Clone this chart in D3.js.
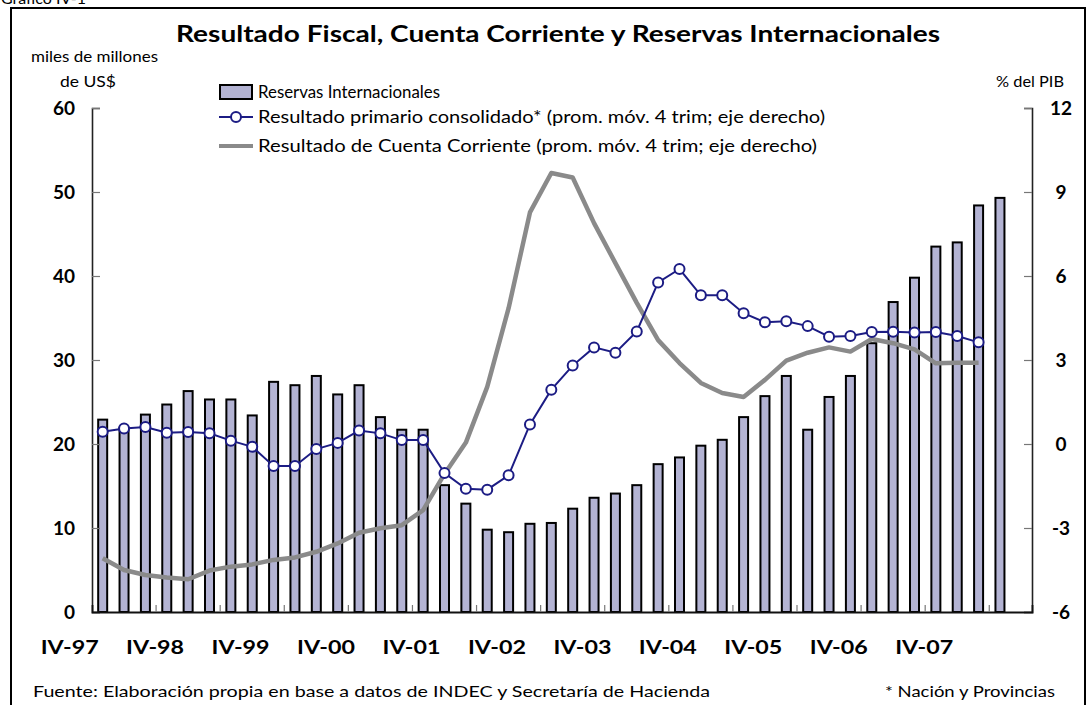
<!DOCTYPE html>
<html><head><meta charset="utf-8">
<script src="https://cdn.jsdelivr.net/npm/d3@7"></script>
<style>
html,body{margin:0;padding:0;background:#fff;}
svg{display:block;font-family:Lato,"Open Sans",sans-serif;}
</style></head>
<body>
<svg id="c" width="1089" height="705"></svg>
<script>
// ---------------- DATA ----------------
const quarters = ["IV-97","I-98","II-98","III-98","IV-98","I-99","II-99","III-99","IV-99",
  "I-00","II-00","III-00","IV-00","I-01","II-01","III-01","IV-01","I-02","II-02","III-02","IV-02",
  "I-03","II-03","III-03","IV-03","I-04","II-04","III-04","IV-04","I-05","II-05","III-05","IV-05",
  "I-06","II-06","III-06","IV-06","I-07","II-07","III-07","IV-07","I-08","II-08","III-08"];
const yearLabels = ["IV-97","IV-98","IV-99","IV-00","IV-01","IV-02","IV-03","IV-04","IV-05","IV-06","IV-07"];
// Reservas Internacionales (miles de millones de US$)
const reservas = [22.9,21.9,23.5,24.7,26.3,25.3,25.3,23.4,27.4,27.0,28.1,25.9,27.0,23.2,21.7,21.7,
  15.1,12.9,9.8,9.5,10.5,10.6,12.3,13.6,14.1,15.1,17.6,18.4,19.8,20.5,23.2,25.7,28.1,21.7,25.6,28.1,
  32.0,36.9,39.8,43.5,44.0,48.4,49.3];
// Resultado primario consolidado (% del PIB, prom. móv. 4 trim)
const primario = [0.44,0.55,0.61,0.40,0.43,0.38,0.12,-0.10,-0.79,-0.79,-0.18,0.04,0.48,0.38,0.14,0.14,
  -1.04,-1.60,-1.63,-1.12,0.70,1.94,2.80,3.45,3.26,4.02,5.77,6.25,5.31,5.31,4.67,4.35,4.38,4.21,3.83,
  3.86,4.00,4.01,3.98,4.00,3.86,3.63];
// Resultado de Cuenta Corriente (% del PIB, prom. móv. 4 trim)
const cuentaCorriente = [-4.08,-4.50,-4.68,-4.77,-4.83,-4.52,-4.38,-4.30,-4.14,-4.05,-3.85,-3.55,-3.17,
  -3.01,-2.90,-2.36,-1.07,0.05,2.04,4.85,8.27,9.68,9.52,7.89,6.46,5.04,3.71,2.89,2.18,1.82,1.68,2.29,
  2.98,3.26,3.45,3.30,3.75,3.60,3.38,2.88,2.90,2.90];
const leftTicks = [0,10,20,30,40,50,60];
const rightTicks = [-6,-3,0,3,6,9,12];

// ---------------- LAYOUT ----------------
const svg = d3.select("#c");
const L = 92, R = 1032, T = 108, B = 612;
const barFill = "#b3b3d3", blue = "#1c1c84", gray = "#8a8a8a";

const x = d3.scaleBand().domain(quarters).range([L, R]).padding(0);
const bw = x.bandwidth();
const yL = d3.scaleLinear().domain([0, 60]).range([B, T]);
const yR = d3.scaleLinear().domain([-6, 12]).range([B, T]);
const cx = q => x(q) + bw / 2;

function fit(sel, w) { sel.attr("textLength", w).attr("lengthAdjust", "spacingAndGlyphs"); return sel; }

// frame
svg.append("rect").attr("x", 11).attr("y", 8).attr("width", 1074).attr("height", 720)
  .attr("fill", "none").attr("stroke", "#000").attr("stroke-width", 2);
svg.append("text").attr("x", 1).attr("y", 4).attr("font-size", 16).text("Gráfico IV-1");

// title
fit(svg.append("text").attr("x", 176).attr("y", 42).attr("font-size", 22).attr("font-weight", 700)
  .text("Resultado Fiscal, Cuenta Corriente y Reservas Internacionales"), 764);

// axis unit labels
fit(svg.append("text").attr("x", 31).attr("y", 62).attr("font-size", 15).text("miles de millones"), 127);
fit(svg.append("text").attr("x", 60).attr("y", 87).attr("font-size", 15).text("de US$"), 56);
fit(svg.append("text").attr("x", 996).attr("y", 87).attr("font-size", 15).text("% del PIB"), 68);

// bars
svg.append("g").selectAll("rect").data(reservas).join("rect")
  .attr("x", (d, i) => cx(quarters[i]) - 4.5).attr("width", 9)
  .attr("y", d => yL(d)).attr("height", d => yL(0) - yL(d))
  .attr("fill", barFill).attr("stroke", "#000").attr("stroke-width", 2);

// axes
const axL = d3.axisLeft(yL).tickValues(leftTicks).tickSize(-8).tickFormat("");
const gL = svg.append("g").attr("transform", `translate(${L},0)`).call(axL);
const axR = d3.axisRight(yR).tickValues(rightTicks).tickSize(-8).tickFormat("");
const gR = svg.append("g").attr("transform", `translate(${R},0)`).call(axR);
[gL, gR].forEach(g => {
  g.select(".domain").attr("stroke", "#222").attr("stroke-width", 1.6);
  g.selectAll(".tick line").attr("stroke", "#777").attr("stroke-width", 1.2);
});
const tickCats = quarters.filter((q, i) => i > 0 && i % 3 === 0);
const axB = d3.axisBottom(x).tickValues(tickCats).tickSize(-7).tickFormat("");
const gB = svg.append("g").attr("transform", `translate(0,${B})`).call(axB);
gB.selectAll(".tick").attr("transform", d => `translate(${x(d)},0)`);
gB.selectAll(".tick line").attr("stroke", "#777").attr("stroke-width", 1.2);
gB.select(".domain").attr("stroke", "#111").attr("stroke-width", 1.8);

// tick labels
svg.append("g").selectAll("text").data(leftTicks).join("text")
  .attr("x", 75).attr("y", d => yL(d)).attr("dy", "0.36em").attr("text-anchor", "end")
  .attr("font-size", 19).attr("font-weight", 700).text(d => d);
svg.append("g").selectAll("text").data(rightTicks).join("text")
  .attr("x", 1061).attr("y", d => yR(d)).attr("dy", "0.36em").attr("text-anchor", "middle")
  .attr("font-size", 19).attr("font-weight", 700).text(d => d);
svg.append("g").selectAll("text").data(yearLabels).join("text")
  .attr("x", d => cx(d) - 33 - 29).attr("y", 654)
  .attr("font-size", 18).attr("font-weight", 700)
  .attr("textLength", 58).attr("lengthAdjust", "spacingAndGlyphs").text(d => d);

// current account line
const lineCC = d3.line().x((d, i) => cx(quarters[i])).y(d => yR(d));
svg.append("path").datum(cuentaCorriente).attr("d", lineCC)
  .attr("fill", "none").attr("stroke", gray).attr("stroke-width", 4.5).attr("stroke-linejoin", "round");

// primary result line + markers
const lineP = d3.line().x((d, i) => cx(quarters[i])).y(d => yR(d));
svg.append("path").datum(primario).attr("d", lineP)
  .attr("fill", "none").attr("stroke", blue).attr("stroke-width", 2);
svg.append("g").selectAll("circle").data(primario).join("circle")
  .attr("cx", (d, i) => cx(quarters[i])).attr("cy", d => yR(d)).attr("r", 5)
  .attr("fill", "#fff").attr("stroke", blue).attr("stroke-width", 2);

// legend
const lg = svg.append("g");
lg.append("rect").attr("x", 220).attr("y", 85).attr("width", 32).attr("height", 14)
  .attr("fill", barFill).attr("stroke", "#000").attr("stroke-width", 2);
fit(lg.append("text").attr("x", 258).attr("y", 98).attr("font-size", 17).text("Reservas Internacionales"), 182);
lg.append("line").attr("x1", 219).attr("x2", 253).attr("y1", 117).attr("y2", 117).attr("stroke", blue).attr("stroke-width", 2);
lg.append("circle").attr("cx", 236).attr("cy", 117).attr("r", 5).attr("fill", "#fff").attr("stroke", blue).attr("stroke-width", 2);
fit(lg.append("text").attr("x", 258).attr("y", 123).attr("font-size", 17)
  .text("Resultado primario consolidado* (prom. móv. 4 trim; eje derecho)"), 567);
lg.append("line").attr("x1", 219).attr("x2", 253).attr("y1", 146).attr("y2", 146).attr("stroke", gray).attr("stroke-width", 4);
fit(lg.append("text").attr("x", 258).attr("y", 152).attr("font-size", 17)
  .text("Resultado de Cuenta Corriente (prom. móv. 4 trim; eje derecho)"), 559);

// footer
fit(svg.append("text").attr("x", 33).attr("y", 697).attr("font-size", 16)
  .text("Fuente: Elaboración propia en base a datos de INDEC y Secretaría de Hacienda"), 677);
fit(svg.append("text").attr("x", 885).attr("y", 697).attr("font-size", 16)
  .text("* Nación y Provincias"), 170);
</script>
</body></html>
